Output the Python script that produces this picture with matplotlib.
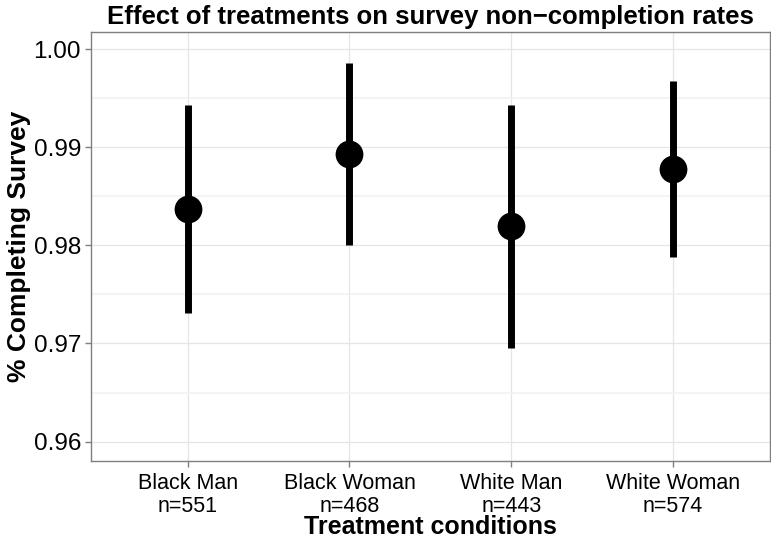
import matplotlib
matplotlib.use("Agg")
import matplotlib.pyplot as plt
import numpy as np

plt.rcParams['font.family'] = ['Liberation Sans', 'DejaVu Sans']

# Completion rates with 95% confidence bounds per treatment condition
conditions = ["Black Man", "Black Woman", "White Man", "White Woman"]
sample_sizes = [551, 468, 443, 574]
completion_rate = [0.9837, 0.9893, 0.9820, 0.9878]
ci_low = [0.9731, 0.9800, 0.9695, 0.9788]
ci_high = [0.9943, 0.9986, 0.9943, 0.9968]

W, H = 771, 542
fig = plt.figure(figsize=(W / 100, H / 100), dpi=100)
ax = fig.add_axes([90.7 / W, 1 - 460.7 / H, (770 - 90.7) / W, (460.7 - 32) / H])

x = np.arange(len(conditions))
ax.vlines(x, ci_low, ci_high, color="black", linewidth=5, zorder=3)
ax.scatter(x, completion_rate, s=400, color="black", zorder=4, linewidths=0)

ax.set_xlim(-0.6, len(conditions) - 0.4)
ax.set_ylim(0.95805, 1.00175)
ax.set_yticks([0.96, 0.97, 0.98, 0.99, 1.00])
ax.set_yticklabels(["0.96", "0.97", "0.98", "0.99", "1.00"])
ax.set_yticks([0.965, 0.975, 0.985, 0.995], minor=True)
ax.set_xticks(x)
ax.set_xticklabels([f"{c}\nn={n}" for c, n in zip(conditions, sample_sizes)],
                   linespacing=1.1)

ax.grid(which="major", color="#E5E5E5", linewidth=0.9)
ax.grid(which="minor", axis="y", color="#F2F2F2", linewidth=1.2)
ax.set_axisbelow(True)
for s in ax.spines.values():
    s.set_color("#7F7F7F")
    s.set_linewidth(1.0)
ax.tick_params(which="major", color="#7F7F7F", length=4, width=1.0,
               labelcolor="black", pad=3)
ax.tick_params(axis="y", labelsize=17.5)
ax.tick_params(axis="x", labelsize=15.5, pad=5)
ax.tick_params(which="minor", length=0)

ax.set_title("Effect of treatments on survey non\u2212completion rates",
             fontsize=18.5, fontweight="bold", pad=6)
ax.set_xlabel("Treatment conditions", fontsize=18, fontweight="bold", labelpad=-1)
ax.set_ylabel("% Completing Survey", fontsize=19, fontweight="bold", labelpad=2)

fig.savefig("out.png", dpi=100)
